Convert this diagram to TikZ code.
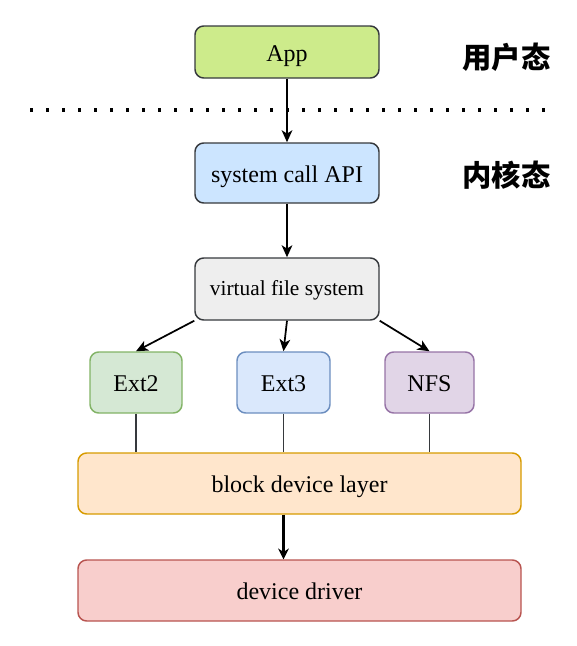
\documentclass[tikz,border=0pt]{standalone}
\usepackage{fontspec}
\setmainfont{Liberation Serif}
\newfontfamily\cjk{Noto Sans CJK SC}
\usetikzlibrary{arrows.meta}
\definecolor{dk}{HTML}{36393D}
\definecolor{appf}{HTML}{CDEB8B}
\definecolor{sysf}{HTML}{CCE5FF}
\definecolor{vfsf}{HTML}{EEEEEE}
\definecolor{grf}{HTML}{D5E8D4}\definecolor{grd}{HTML}{82B366}
\definecolor{blf}{HTML}{DAE8FC}\definecolor{bld}{HTML}{6C8EBF}
\definecolor{puf}{HTML}{E1D5E7}\definecolor{pud}{HTML}{9673A6}
\definecolor{orf}{HTML}{FFE6CC}\definecolor{ord}{HTML}{D79B00}
\definecolor{ref}{HTML}{F8CECC}\definecolor{red}{HTML}{B85450}
\def\pxu{0.75pt}
\tikzset{
  box/.style={draw=dk, rounded corners=6.5pt, line width=1.1pt, inner sep=0pt,
    font=\fontsize{18}{20}\selectfont, text=black, text height=18.2pt, text depth=4pt},
  arr/.style={draw=black, line width=1.3pt, -{Stealth[length=9pt,width=8pt,inset=2.5pt]}},
  thickarr/.style={draw=black, line width=2.2pt, -{Stealth[length=8pt,width=8pt,inset=2.5pt]}},
  link/.style={draw=dk, line width=1.1pt},
  lbl/.style={font=\cjk\bfseries\fontsize{22}{24}\selectfont},
}
\begin{document}
\begin{tikzpicture}[x=0.75pt,y=-0.75pt]
\useasboundingbox (0,0) rectangle (577,646);
\node[box, fill=appf, minimum width=184*\pxu, minimum height=52*\pxu] (app) at (287,52) {App};
\node[box, fill=sysf, minimum width=184*\pxu, minimum height=60*\pxu] (sys) at (287,173) {system call API};
\node[box, fill=vfsf, minimum width=184*\pxu, minimum height=62*\pxu, font=\fontsize{16}{18}\selectfont, text height=14pt, text depth=4pt] (vfs) at (287,289) {virtual file system};
\node[box, fill=grf, draw=grd, minimum width=92*\pxu, minimum height=61*\pxu] (ext2) at (136,382.5) {Ext2};
\node[box, fill=blf, draw=bld, minimum width=93*\pxu, minimum height=61*\pxu] (ext3) at (283.5,382.5) {Ext3};
\node[box, fill=puf, draw=pud, minimum width=89*\pxu, minimum height=61*\pxu] (nfs) at (429.5,382.5) {NFS};
\node[box, fill=orf, draw=ord, minimum width=443*\pxu, minimum height=61*\pxu] (blk) at (299.5,483.5) {block device layer};
\node[box, fill=ref, draw=red, minimum width=443*\pxu, minimum height=61*\pxu] (drv) at (299.5,590.5) {device driver};
\node[lbl] (user) at (506.5,57) {用户态};
\node[lbl] (kern) at (506.5,175.5) {内核态};
\coordinate (d1) at (30,110);
\coordinate (d2) at (548,110);
\draw[line width=2.4pt, dash pattern=on 2.4pt off 9.6pt] (d1) -- (d2);
\draw[arr] (app.south) -- (sys.north);
\draw[arr] (sys.south) -- (vfs.north);
\draw[arr] (vfs.south west) -- (ext2.north);
\draw[arr] (vfs.south) -- (ext3.north);
\draw[arr] (vfs.south east) -- (nfs.north);
\draw[link] (ext2.south) -- (ext2.south |- blk.north);
\draw[link] (ext3.south) -- (ext3.south |- blk.north);
\draw[link] (nfs.south) -- (nfs.south |- blk.north);
\draw[thickarr] (ext3.south |- blk.south) -- (ext3.south |- drv.north);
\end{tikzpicture}
\end{document}
